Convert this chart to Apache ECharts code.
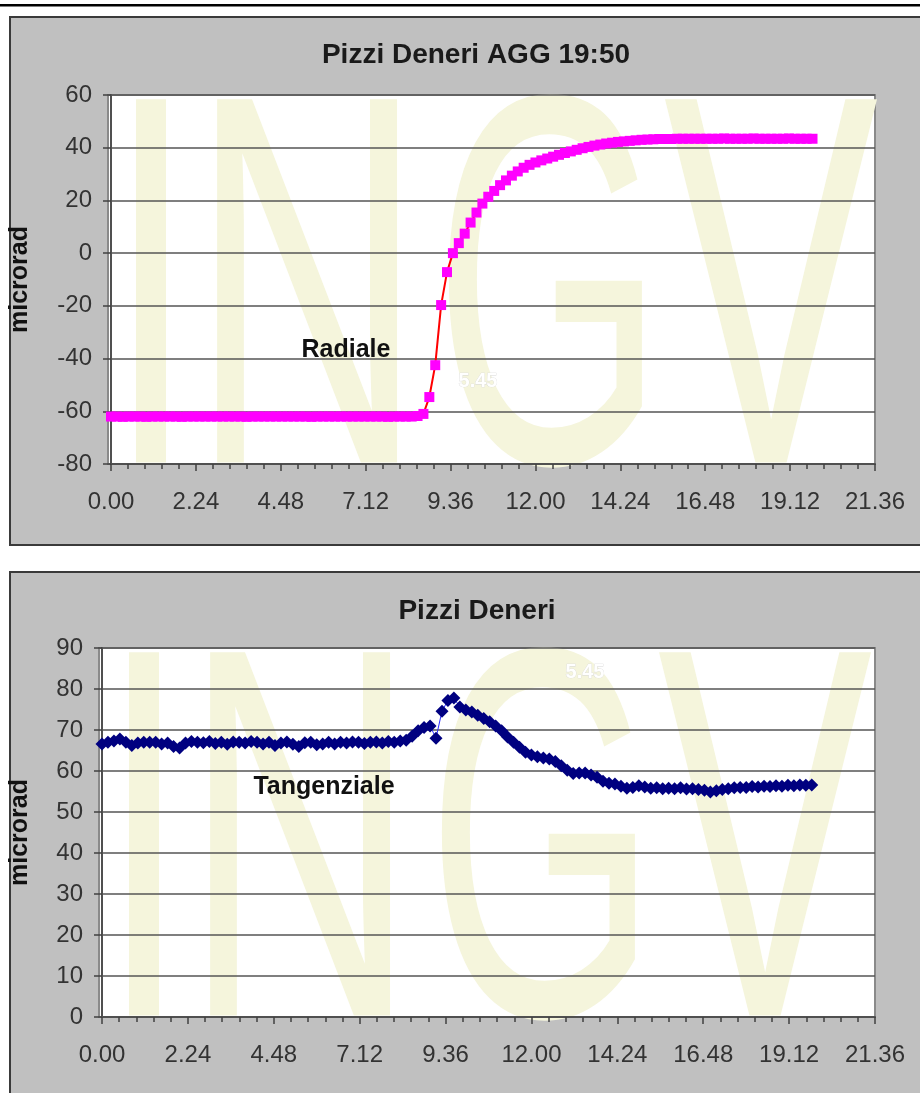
<!DOCTYPE html>
<html>
<head>
<meta charset="utf-8">
<script src="https://cdn.jsdelivr.net/npm/echarts@6/dist/echarts.min.js"></script>
<style>
html,body{margin:0;padding:0;background:#fff;}
#c{width:920px;height:1093px;}
</style>
</head>
<body>
<div id="c"></div>
<script>
// ---- data (minutes since 0:00, sampled every 10 min) ----
var times = [0,10,20,30,40,50,60,70,80,90,100,110,120,130,140,150,160,170,180,190,
200,210,220,230,240,250,260,270,280,290,300,310,320,330,340,350,360,370,380,390,
400,410,420,430,440,450,460,470,480,490,500,510,520,530,540,550,560,570,580,590,
600,610,620,630,640,650,660,670,680,690,700,710,720,730,740,750,760,770,780,790,
800,810,820,830,840,850,860,870,880,890,900,910,920,930,940,950,960,970,980,990,
1000,1010,1020,1030,1040,1050,1060,1070,1080,1090,1100,1110,1120,1130,1140,1150,1160,1170,1180,1190];

var radiale = [-62,-62,-62.1,-62,-62,-62,-62.1,-62,-62,-62,-62,-62,-62.1,-62,-62,-62,-62,-62,-62,-62,
-62,-62,-62,-62.1,-62,-62,-62,-62,-62,-62,-62,-62,-62,-62,-62.1,-62,-62,-62,-62,-62,
-62,-62,-62,-62,-62,-62,-62,-62.1,-62,-62,-62,-62,-61.8,-61.0,-54.6,-42.5,-19.7,-7.2,0.0,3.8,
7.4,11.6,15.4,18.8,21.4,23.6,25.8,27.6,29.4,31.0,32.4,33.5,34.4,35.2,35.9,36.6,37.3,38.0,38.6,39.2,
39.8,40.3,40.8,41.2,41.6,41.9,42.2,42.4,42.6,42.8,43.0,43.1,43.2,43.3,43.3,43.3,43.4,43.4,43.4,43.4,
43.4,43.4,43.4,43.4,43.5,43.4,43.4,43.4,43.4,43.5,43.4,43.4,43.4,43.4,43.4,43.5,43.4,43.4,43.4,43.4];

var tangenziale = [66.6,67.0,67.3,67.8,67.0,66.2,66.8,67.0,67.0,67.0,66.6,66.8,66.0,65.6,66.8,67.2,67.0,66.9,67.2,66.7,
67.0,66.5,67.1,67.0,66.8,67.2,67.0,66.6,67.0,66.2,66.8,67.1,66.5,66.0,66.9,67.0,66.4,66.6,67.0,66.6,
67.0,66.8,67.1,67.0,66.7,67.0,67.1,66.8,67.2,67.0,67.3,67.5,68.5,69.8,70.6,71.0,68.0,74.6,77.2,77.8,
75.6,74.9,74.4,73.6,72.8,72.0,71.0,69.8,68.3,67.0,65.8,64.6,63.9,63.5,63.2,62.9,62.3,61.3,60.2,59.4,
59.5,59.5,59.0,58.5,57.5,57.0,56.8,56.3,55.8,56.0,56.4,56.1,55.8,55.9,55.7,55.8,55.7,55.9,55.6,55.7,
55.5,55.3,54.9,55.2,55.5,55.7,55.9,56.0,56.0,56.2,56.1,56.3,56.2,56.4,56.3,56.5,56.4,56.6,56.5,56.6];

var xTickLabels = ['0.00','2.24','4.48','7.12','9.36','12.00','14.24','16.48','19.12','21.36'];
var titles = ['Pizzi Deneri AGG 19:50', 'Pizzi Deneri'];
var seriesNames = ['Radiale', 'Tangenziale'];
var yAxisName = 'microrad';

// ---- layout ----
var W = 920, H = 1093;
var g1 = {left:108, top:95, right:45, height:369};
var g2 = {left:99, top:648, right:45, height:369};
var FONT = '"Liberation Sans", Arial, sans-serif';

function zip(xs, ys){ var out=[]; for (var i=0;i<xs.length;i++) out.push([xs[i], ys[i]]); return out; }

function xAxisCfg(gi){
  return {
    type:'value', gridIndex:gi, min:0, max:1296, interval:144,
    axisLine:{show:true, onZero:false, lineStyle:{color:'#505050', width:2}},
    axisTick:{show:true, inside:false, length:7, lineStyle:{color:'#404040', width:1.5}},
    minorTick:{show:true, splitNumber:5, length:5, lineStyle:{color:'#404040', width:1.5}},
    splitLine:{show:false},
    axisLabel:{margin:26, color:'#333', fontSize:24, fontFamily:FONT,
      formatter:function(v){ return xTickLabels[Math.round(v/144)]; }}
  };
}
function yAxisCfg(gi, min, max, iv, gap){
  return {
    type:'value', gridIndex:gi, min:min, max:max, interval:iv,
    name:yAxisName, nameLocation:'middle', nameGap:gap, nameRotate:90,
    nameTextStyle:{fontSize:25, fontWeight:'bold', color:'#111', fontFamily:FONT},
    axisLine:{show:true, onZero:false, lineStyle:{color:'#505050', width:2}},
    axisTick:{show:true, inside:false, length:8, lineStyle:{color:'#404040', width:1.5}},
    splitLine:{show:true, lineStyle:{color:'#555', width:1.6}},
    axisLabel:{margin:19, color:'#333', fontSize:24, fontFamily:FONT}
  };
}

function letters(centers, cy){
  var chars = ['I','N','G','V'];
  return chars.map(function(ch, i){
    return {type:'text', z:-5, x:centers[i], y:cy, scaleX:ch === 'G' ? 0.56 : 0.61, scaleY:1, originX:0, originY:0,
      style:{text:ch, fill:'#f5f5dc', font:'528px ' + FONT, textAlign:'center', textVerticalAlign:'middle'}, silent:true};
  });
}

var graphics = [
  {type:'rect', z:-20, shape:{x:0, y:4, width:W, height:2.5}, style:{fill:'#000'}},
  {type:'rect', z:-20, shape:{x:10, y:17, width:940, height:528}, style:{fill:'#c0c0c0', stroke:'#3a3a3a', lineWidth:2}},
  {type:'rect', z:-20, shape:{x:10, y:572, width:940, height:560}, style:{fill:'#c0c0c0', stroke:'#3a3a3a', lineWidth:2}},
  {type:'rect', z:-15, shape:{x:g1.left, y:g1.top, width:W-g1.right-g1.left, height:g1.height}, style:{fill:'#fff', stroke:'#8a8a8a', lineWidth:2}},
  {type:'rect', z:-15, shape:{x:g2.left, y:g2.top, width:W-g2.right-g2.left, height:g2.height}, style:{fill:'#fff', stroke:'#8a8a8a', lineWidth:2}},
  {type:'text', z:10, x:346, y:350, style:{text:seriesNames[0], font:'bold 25px ' + FONT, fill:'#111', textAlign:'center', textVerticalAlign:'middle'}},
  {type:'text', z:10, x:324, y:787, style:{text:seriesNames[1], font:'bold 25px ' + FONT, fill:'#111', textAlign:'center', textVerticalAlign:'middle'}},
  {type:'text', z:10, x:478, y:381, style:{text:'5.45', font:'bold 20px ' + FONT, fill:'#ffffff', stroke:'#d8d8d8', lineWidth:0.6, textAlign:'center', textVerticalAlign:'middle'}},
  {type:'text', z:10, x:585, y:672, style:{text:'5.45', font:'bold 20px ' + FONT, fill:'#ffffff', stroke:'#d8d8d8', lineWidth:0.6, textAlign:'center', textVerticalAlign:'middle'}}
].concat(letters([151, 307, 549, 771], 317)).concat(letters([144, 300, 542, 765], 870));

var chart = echarts.init(document.getElementById('c'), null, {renderer:'canvas'});
chart.setOption({
  animation:false,
  backgroundColor:'#fff',
  title:[
    {text:titles[0], left:471, top:36, textAlign:'center', textStyle:{fontSize:28, fontWeight:'bold', color:'#1a1a1a', fontFamily:FONT}},
    {text:titles[1], left:472, top:592, textAlign:'center', textStyle:{fontSize:28, fontWeight:'bold', color:'#1a1a1a', fontFamily:FONT}}
  ],
  graphic:graphics,
  grid:[
    {left:g1.left, top:g1.top, right:g1.right, height:g1.height, containLabel:false},
    {left:g2.left, top:g2.top, right:g2.right, height:g2.height, containLabel:false}
  ],
  xAxis:[xAxisCfg(0), xAxisCfg(1)],
  yAxis:[yAxisCfg(0, -80, 60, 20, 78), yAxisCfg(1, 0, 90, 10, 69)],
  series:[
    {name:seriesNames[0], type:'line', xAxisIndex:0, yAxisIndex:0, data:zip(times, radiale),
      symbol:'rect', symbolSize:10, showAllSymbol:true,
      lineStyle:{color:'#ff0000', width:2}, itemStyle:{color:'#ff00ff'}},
    {name:seriesNames[1], type:'line', xAxisIndex:1, yAxisIndex:1, data:zip(times, tangenziale),
      symbol:'diamond', symbolSize:13, showAllSymbol:true,
      lineStyle:{color:'#2a2aff', width:1}, itemStyle:{color:'#000080'}}
  ]
});
</script>
</body>
</html>
